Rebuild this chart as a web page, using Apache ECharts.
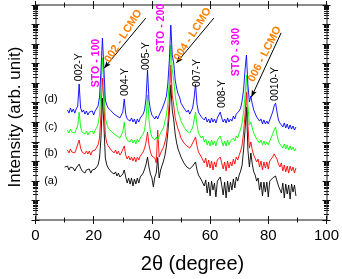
<!DOCTYPE html>
<html><head><meta charset="utf-8">
<script src="https://cdn.jsdelivr.net/npm/echarts@6/dist/echarts.min.js"></script>
<style>html,body{margin:0;padding:0;background:#fff}#c{width:342px;height:279px}</style>
</head><body><div id="c"></div>
<script>
// 2θ scan grid (degrees)
const scanStep = 0.5;
const startA = 10;   // sample (a) scan start
const startBCD = 11; // samples (b),(c),(d) scan start

// log10(intensity), arb. units
const logI_a = [2.71,2.61,2.76,2.56,2.71,2.61,2.66,2.51,2.66,2.66,
2.86,2.66,2.51,2.61,2.40,2.56,2.46,2.61,2.40,2.56,
2.46,2.61,2.66,2.81,3.17,4.19,6.24,4.86,3.17,2.81,
2.66,2.71,2.46,2.56,2.35,2.46,2.25,2.40,2.20,2.30,
2.35,2.56,2.20,1.89,2.15,1.84,2.15,1.74,2.10,1.84,
2.15,1.89,2.20,2.15,2.40,2.61,2.86,3.22,2.71,2.35,
2.15,1.70,2.20,2.40,3.20,2.15,2.56,2.66,3.02,3.32,
3.79,4.50,5.52,6.91,5.63,5.12,4.40,3.94,3.63,3.43,
3.22,3.12,2.92,2.97,2.71,2.81,2.61,2.71,2.76,2.81,
2.97,2.56,2.30,2.20,2.05,2.15,1.74,2.05,1.38,1.94,
1.23,1.99,1.53,1.89,1.18,1.99,1.94,2.20,1.79,1.28,
1.94,1.13,1.99,1.43,1.94,1.53,2.10,1.64,2.20,1.99,
2.30,2.51,2.81,3.58,4.60,5.78,3.58,2.71,3.43,2.86,
2.46,2.30,1.99,2.15,1.53,1.94,1.23,1.94,1.43,1.94,
1.18,1.99,2.05,2.15,2.15,2.25,1.99,1.74,1.84,1.38,
1.89,1.13,1.84,1.33,1.79,1.07,1.84,1.43,1.79,1.23];

const logI_b = [3.58,3.43,3.63,3.48,3.58,3.43,3.63,3.73,4.09,3.68,
3.48,3.58,3.38,3.53,3.38,3.53,3.32,3.53,3.43,3.58,
3.68,3.84,4.19,5.37,7.26,6.14,4.35,3.94,3.79,3.84,
3.58,3.68,3.43,3.58,3.38,3.53,3.32,3.43,3.53,3.79,
3.32,3.12,3.27,3.07,3.22,3.02,3.22,2.97,3.22,3.07,
3.27,3.22,3.48,3.68,3.99,4.50,3.84,3.48,3.27,3.32,
3.17,2.92,4.60,3.22,3.43,3.53,3.73,3.99,4.35,5.01,
6.14,7.93,6.39,5.88,5.22,4.91,4.65,4.45,4.19,4.14,
3.94,3.99,3.79,3.84,3.68,3.79,3.89,4.09,4.25,3.79,
3.48,3.43,3.22,3.27,2.92,3.17,2.71,3.07,2.66,3.02,
2.56,2.97,2.71,3.07,3.02,3.22,2.92,2.61,2.97,2.51,
3.02,2.66,2.97,2.76,3.12,2.86,3.22,3.07,3.32,3.53,
3.84,4.45,5.37,6.55,4.86,3.68,3.99,3.58,3.32,3.27,
2.97,3.12,2.71,3.02,2.56,2.97,2.66,2.97,2.61,3.02,
3.07,3.22,3.38,3.48,3.12,2.86,2.71,2.92,2.51,2.81,
2.46,2.76,2.40,2.76,2.51,2.71,2.40,2.66];

const logI_c = [4.60,4.45,4.65,4.50,4.60,4.45,4.65,4.81,5.52,4.76,
4.50,4.60,4.40,4.55,4.35,4.50,4.40,4.55,4.40,4.60,
4.71,4.91,5.37,6.65,8.29,6.91,5.22,4.91,4.71,4.81,
4.55,4.65,4.40,4.50,4.30,4.40,4.19,4.35,4.50,5.01,
4.30,4.09,4.19,3.99,4.14,3.94,4.09,3.89,4.14,3.99,
4.19,4.14,4.40,4.60,5.22,6.39,5.12,4.50,4.25,4.35,
4.09,4.25,4.09,4.30,4.40,4.60,4.71,5.06,5.37,5.98,
7.16,8.95,7.67,7.16,6.39,5.88,5.52,5.32,5.06,5.01,
4.76,4.81,4.55,4.65,4.45,4.60,4.71,5.12,5.52,4.86,
4.45,4.40,4.19,4.30,3.99,4.14,3.84,4.04,3.79,4.09,
3.84,4.04,3.79,4.09,4.09,4.30,4.04,3.79,4.04,3.79,
4.09,3.84,4.04,3.94,4.19,4.04,4.30,4.19,4.45,4.65,
4.96,5.52,6.39,7.42,5.88,4.86,5.01,4.71,4.45,4.40,
4.14,4.19,3.94,4.09,3.84,4.04,3.84,3.99,3.84,4.04,
4.14,4.40,4.60,4.76,4.35,4.04,3.89,3.94,3.68,3.89,
3.63,3.84,3.58,3.79,3.58,3.73,3.53,3.68];

const logI_d = [5.63,5.47,5.73,5.52,5.68,5.47,5.68,5.83,6.96,5.73,
5.52,5.63,5.42,5.58,5.37,5.52,5.42,5.58,5.37,5.58,
5.63,5.83,6.29,7.67,9.31,7.78,6.14,5.88,5.73,5.83,
5.58,5.68,5.42,5.52,5.32,5.42,5.22,5.37,5.52,6.19,
5.42,5.17,5.27,5.06,5.22,5.01,5.17,4.91,5.17,5.01,
5.22,5.17,5.42,5.63,6.24,7.67,6.14,5.63,5.37,5.47,
5.17,5.32,5.17,5.37,5.42,5.68,5.73,6.09,6.34,7.01,
8.18,9.97,8.44,8.03,7.16,6.75,6.45,6.29,5.98,5.93,
5.73,5.78,5.52,5.63,5.42,5.58,5.73,6.24,6.96,5.93,
5.52,5.47,5.27,5.37,5.12,5.27,5.01,5.17,4.96,5.22,
5.01,5.17,4.96,5.22,5.27,5.52,5.22,5.01,5.17,4.96,
5.22,5.01,5.17,5.06,5.32,5.17,5.42,5.32,5.58,5.73,
6.09,6.65,7.67,8.44,6.91,6.04,6.34,5.93,5.63,5.58,
5.27,5.32,5.06,5.17,4.91,5.12,4.91,5.06,4.91,5.12,
5.22,5.52,5.83,5.98,5.52,5.12,4.96,5.01,4.76,4.96,
4.71,4.91,4.65,4.86,4.65,4.81,4.60,4.76];

const xTickLabels = [0, 20, 40, 60, 80, 100];
const yDecades = [0,1,2,3,4,5,6,7,8,9,10,11];

// annotations [text, 2θ, log10 I]
const peakLabels = [['002-Y',15.1,7.82],['004-Y',30.7,7.06],['005-Y',37.9,8.39],
  ['007-Y',55.5,7.52],['008-Y',64.3,6.45],['0010-Y',82.3,6.96]];
const stoLabels = [['STO - 100',20.9,8.03],['STO - 200',43.3,9.82],['STO - 300',69.1,8.59]];
// [text, 2θ, log10 I, angle°]
const lcmoLabels = [['002 - LCMO',30.2,9.41,57.6],['004 - LCMO',54.0,9.50,57.6],['006 - LCMO',78.78,8.49,63]];
const lcmoArrows = [[37.9,10.33,23.6,7.77],[61.3,10.33,48.4,8.03],[84.4,9.57,74.2,6.29]];
const sampleLabels = [['(a)',5.3,2.00],['(b)',5.3,3.43],['(c)',5.3,4.76],['(d)',5.3,6.19]];

const FONT = '"Liberation Sans", Arial, Helvetica, sans-serif';
const toPairs = (arr, start) => arr.map((v, i) => [start + i * scanStep, Math.pow(10, v)]);

const minorVals = [];
for (let k = 0; k < 11; k++) for (let m = 2; m <= 9; m++) minorVals.push(k + Math.log10(m));

function yTickAxis(pos, vals, inside, len, showLine) {
  return { type: 'value', position: pos, min: 0, max: 11, offset: 0,
    axisLine: { show: showLine, lineStyle: { color: '#666', width: 1.5 } },
    axisTick: { show: true, inside: inside, length: len, customValues: vals, lineStyle: { color: '#111', width: 1 } },
    axisLabel: { show: false }, splitLine: { show: false } };
}
function xTickAxis(pos, inside, showLabel, showLine) {
  return { type: 'value', position: pos, min: 0, max: 100, interval: 20,
    axisLine: { show: showLine, onZero: false, lineStyle: { color: '#666', width: 1.5 } },
    axisTick: { show: true, inside: inside, length: 4, lineStyle: { color: '#111', width: 1 } },
    minorTick: { show: true, splitNumber: 2, length: 2.5, lineStyle: { color: '#111', width: 1 } },
    axisLabel: { show: showLabel, color: '#000', fontSize: 15, fontFamily: FONT, margin: 8,
      customValues: xTickLabels },
    splitLine: { show: false }, minorSplitLine: { show: false } };
}

const chart = echarts.init(document.getElementById('c'), null, { renderer: 'canvas' });
const gridRect = { left: 35.5, right: 12, top: 5, bottom: 59 };
const lineSeries = (name, data, color) => ({
  name, type: 'line', data, xAxisIndex: 0, yAxisIndex: 0, showSymbol: false, symbol: 'none',
  lineStyle: { color, width: 0.9 }, animation: false, z: 3
});

chart.setOption({
  animation: false,
  grid: Object.assign({ containLabel: false }, gridRect),
  xAxis: [xTickAxis('bottom', false, true, true), xTickAxis('bottom', true, false, false),
          xTickAxis('top', true, false, true), xTickAxis('top', false, false, false)],
  yAxis: [
    { type: 'log', min: 1, max: 1e11, logBase: 10, show: false },
    yTickAxis('left', yDecades, false, 4, true), yTickAxis('left', yDecades, true, 4, false),
    yTickAxis('left', minorVals, false, 2.5, false), yTickAxis('left', minorVals, true, 2.5, false),
    yTickAxis('right', yDecades, false, 4, true), yTickAxis('right', yDecades, true, 4, false),
    yTickAxis('right', minorVals, false, 2.5, false), yTickAxis('right', minorVals, true, 2.5, false)
  ],
  series: [
    lineSeries('(a)', toPairs(logI_a, startA), '#000000'),
    lineSeries('(b)', toPairs(logI_b, startBCD), '#ff0000'),
    lineSeries('(c)', toPairs(logI_c, startBCD), '#00ff00'),
    Object.assign(lineSeries('(d)', toPairs(logI_d, startBCD), '#0000ff'), {
      markLine: { silent: true, animation: false, symbol: ['none', 'arrow'], symbolSize: [4, 7],
        label: { show: false },
        lineStyle: { color: '#000', width: 1, type: 'solid' },
        data: lcmoArrows.map(a => [{ coord: [a[0], Math.pow(10, a[1])] }, { coord: [a[2], Math.pow(10, a[3])] }]) }
    })
  ]
});

const px = (x, l) => chart.convertToPixel({ xAxisIndex: 0, yAxisIndex: 0 }, [x, Math.pow(10, l)]);
const graphics = [];
peakLabels.forEach(([t, x, l]) => { const p = px(x, l);
  graphics.push({ type: 'text', x: p[0], y: p[1], rotation: Math.PI / 2, z: 10,
    style: { text: t, fill: '#000', font: '10.5px ' + FONT, align: 'center', verticalAlign: 'middle' } }); });
stoLabels.forEach(([t, x, l]) => { const p = px(x, l);
  graphics.push({ type: 'text', x: p[0], y: p[1], rotation: Math.PI / 2, z: 10,
    style: { text: t, fill: '#ff00ff', font: 'bold 10.5px ' + FONT, align: 'center', verticalAlign: 'middle' } }); });
lcmoLabels.forEach(([t, x, l, a]) => { const p = px(x, l);
  graphics.push({ type: 'text', x: p[0], y: p[1], rotation: a * Math.PI / 180, z: 10,
    style: { text: t, fill: '#ff8000', font: 'bold 11px ' + FONT, align: 'center', verticalAlign: 'middle' } }); });
sampleLabels.forEach(([t, x, l]) => { const p = px(x, l);
  graphics.push({ type: 'text', x: p[0], y: p[1], z: 10,
    style: { text: t, fill: '#000', font: '11px ' + FONT, align: 'center', verticalAlign: 'middle' } }); });
graphics.push({ type: 'text', x: 192.5, y: 264, z: 10,
  style: { text: '2θ (degree)', fill: '#000', font: '20px ' + FONT, align: 'center', verticalAlign: 'middle' } });
graphics.push({ type: 'text', x: 15, y: 117, rotation: Math.PI / 2, z: 10,
  style: { text: 'Intensity (arb. unit)', fill: '#000', font: '17px ' + FONT, align: 'center', verticalAlign: 'middle' } });
chart.setOption({ graphic: graphics });
</script></body></html>
